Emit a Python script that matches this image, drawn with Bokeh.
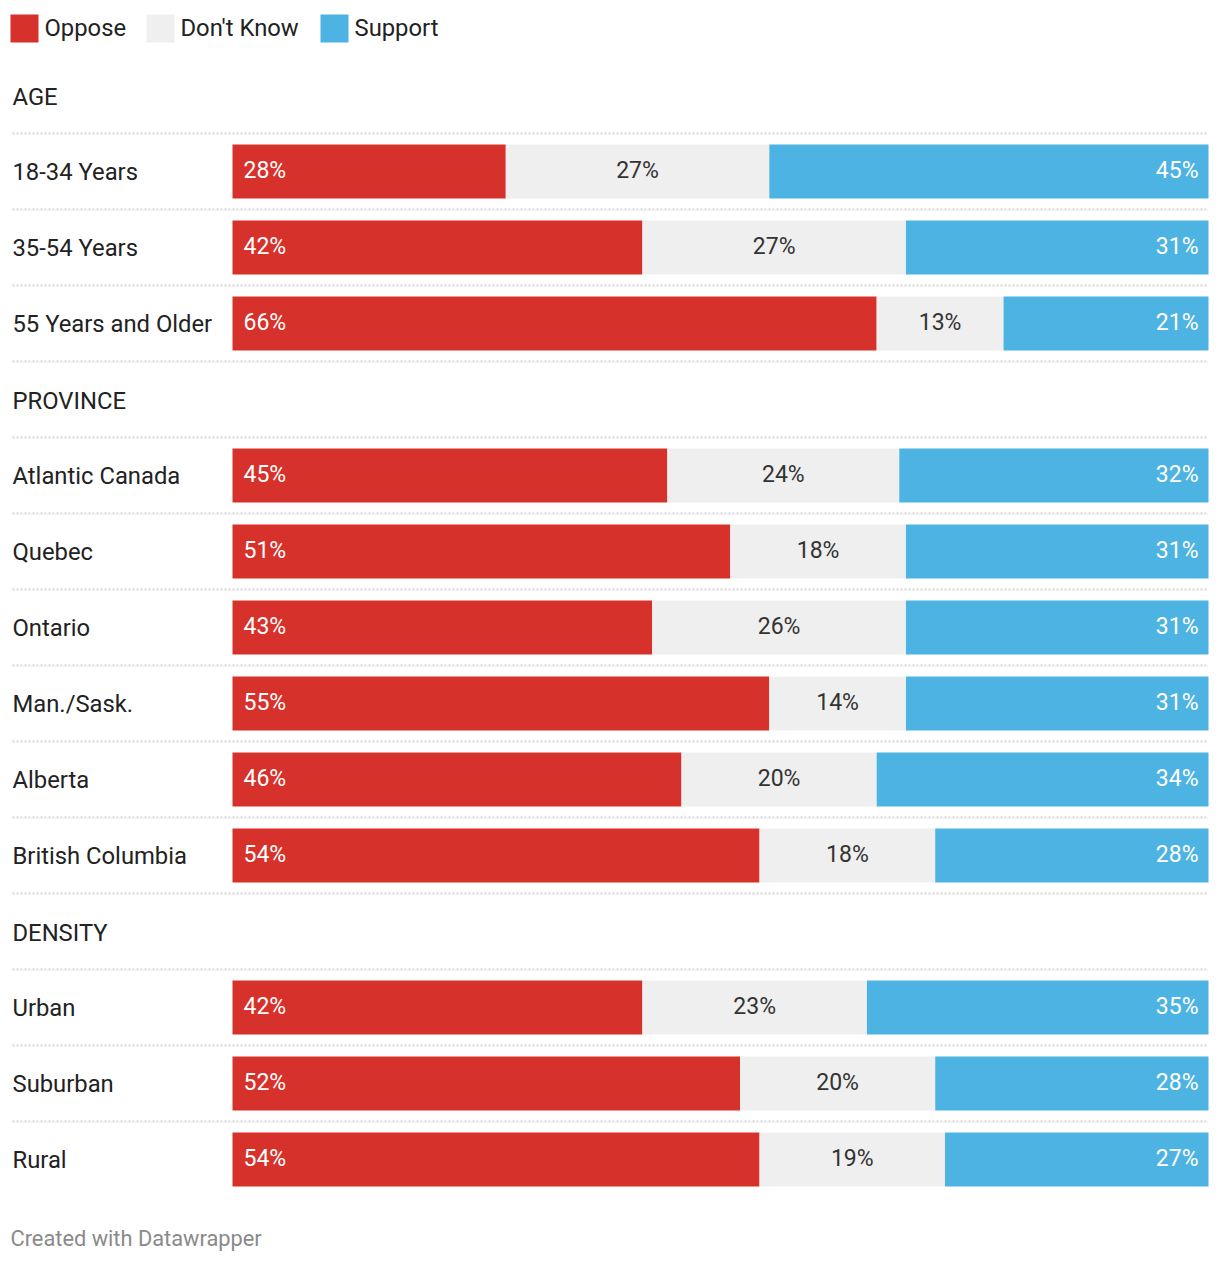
from bokeh.plotting import figure
from bokeh.models import Range1d, ColumnDataSource
from bokeh.core.properties import value
from bokeh.embed import file_html
from bokeh.resources import INLINE

# ---- data ----
groups = ["AGE", "PROVINCE", "DENSITY"]
categories = [
    ["18-34 Years", "35-54 Years", "55 Years and Older"],
    ["Atlantic Canada", "Quebec", "Ontario", "Man./Sask.", "Alberta", "British Columbia"],
    ["Urban", "Suburban", "Rural"],
]
oppose = [[28, 42, 66], [45, 51, 43, 55, 46, 54], [42, 52, 54]]
dont_know = [[27, 27, 13], [24, 18, 26, 14, 20, 18], [23, 20, 19]]
support = [[45, 31, 21], [32, 31, 31, 31, 34, 28], [35, 28, 27]]
series = ["Oppose", "Don't Know", "Support"]
colors = ["#d7312b", "#efefef", "#4db3e2"]
label_colors = ["#ffffff", "#333333", "#ffffff"]

# ---- layout (pixels) ----
W, H = 1220, 1264
BAR_L, BAR_R = 232, 1208
FONT = "Roboto"
FS = "23.8px"
VFS = "23px"


def px(x):
    return (x - BAR_L) / (BAR_R - BAR_L)


p = figure(width=W, height=H, output_backend="svg", toolbar_location=None,
           x_range=Range1d(px(0), px(W)), y_range=Range1d(H, 0),
           min_border=0)
p.axis.visible = False
p.grid.visible = False
p.outline_line_color = None
p.background_fill_color = "white"
p.border_fill_color = "white"

# legend
leg_x = [10, 146, 320]
for i, s in enumerate(series):
    p.quad(left=px(leg_x[i]), right=px(leg_x[i] + 28), top=14, bottom=42,
           fill_color=colors[i], line_color=None)
    p.text(x=[px(leg_x[i] + 34)], y=[27], text=[s], text_font=value(FONT),
           text_font_size=FS, text_color="#222222", text_baseline="middle",
           text_align="left")

row_y, row_lbl, left_s, right_s, seg_idx = [], [], [], [], []
sep_y = []
header_y = []
y = 96
for g, gname in enumerate(groups):
    header_y.append(y)
    sep_y.append(y + 37)
    cy = y + 75
    n = len(categories[g])
    for r in range(n):
        vals = [oppose[g][r], dont_know[g][r], support[g][r]]
        tot = sum(vals)
        cum = 0.0
        for k, v in enumerate(vals):
            l = cum / tot
            cum += v
            rr = cum / tot
            row_y.append(cy)
            left_s.append(l)
            right_s.append(rr)
            seg_idx.append(k)
        row_lbl.append((categories[g][r], cy, vals, tot))
        if not (g == len(groups) - 1 and r == n - 1):
            sep_y.append(cy + 38)
        cy += 76
    y = cy - 76 + 38 + 39

# separators
for sy in sep_y:
    p.segment(x0=px(12), x1=px(1208), y0=sy, y1=sy, line_color="#d4d4d4",
              line_width=2, line_dash="2 2")

# bars
src = ColumnDataSource(dict(
    y=row_y, left=left_s, right=right_s,
    color=[colors[k] for k in seg_idx],
))
p.hbar(y="y", left="left", right="right", height=54, fill_color="color",
       line_color=None, source=src)

# headers
p.text(x=[px(12)] * len(groups), y=header_y, text=groups, text_font=value(FONT),
       text_font_size=FS, text_color="#222222", text_baseline="middle")

# row labels and value labels
for name, cy, vals, tot in row_lbl:
    p.text(x=[px(12)], y=[cy], text=[name], text_font=value(FONT),
           text_font_size=FS, text_color="#222222", text_baseline="middle")
    a = vals[0] / tot
    b = (vals[0] + vals[1]) / tot
    p.text(x=[px(BAR_L + 11)], y=[cy - 1], text=[f"{vals[0]}%"], text_font=value(FONT),
           text_font_size=VFS, text_color=label_colors[0], text_baseline="middle",
           text_align="left")
    p.text(x=[(a + b) / 2], y=[cy - 1], text=[f"{vals[1]}%"], text_font=value(FONT),
           text_font_size=VFS, text_color=label_colors[1], text_baseline="middle",
           text_align="center")
    p.text(x=[px(BAR_R - 10)], y=[cy - 1], text=[f"{vals[2]}%"], text_font=value(FONT),
           text_font_size=VFS, text_color=label_colors[2], text_baseline="middle",
           text_align="right")

# footer
p.text(x=[px(10)], y=[1238], text=["Created with Datawrapper"], text_font=value(FONT),
       text_font_size="21.8px", text_color="#8a8a8a", text_baseline="middle")

open("out.html", "w").write(file_html(p, INLINE))
